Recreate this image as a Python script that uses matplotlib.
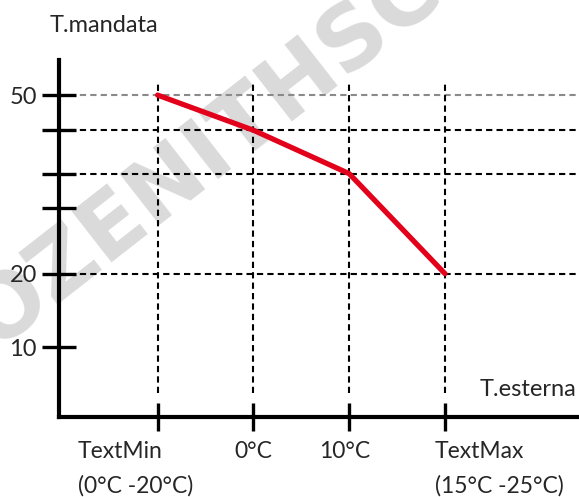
#!/usr/bin/env python3
"""climatic curve: flow temperature vs outdoor temperature"""
import matplotlib
matplotlib.use("Agg")
import matplotlib.pyplot as plt

# data
categories = [0, 1, 2, 3]
cat_labels = ["TextMin\n(0°C -20°C)", "0°C", "10°C", "TextMax\n(15°C -25°C)"]
t_mandata = [50, 44.1, 36.8, 20]
ytick_pos = [7.65, 20, 31.0, 36.8, 44.1, 50]
ytick_labels = ["10", "20", "", "", "", "50"]
hgrid_levels = [20, 36.8, 44.1]
top_level = 50

FONT = ["Lato", "DejaVu Sans"]
TXT = "#262626"
plt.rcParams["font.family"] = FONT


def main():
    fig = plt.figure(figsize=(5.79, 4.97), dpi=100)
    ax = fig.add_axes([59 / 579, 80 / 497, 520 / 579, 357 / 497])
    ax.set_facecolor("none")
    ax.set_zorder(1)

    # watermark behind the chart
    fig.text(205 / 579, 1 - 155 / 497, "OZENITHSC", rotation=38,
             ha="center", va="center", fontsize=64, weight="bold",
             family="DejaVu Sans", color="#dadada", zorder=0)

    ax.set_xlim(-1.03, 4.4)
    ax.set_ylim(-4.1, 55.9)

    # grid
    for lv in hgrid_levels:
        ax.axhline(lv, color="black", lw=1.5, ls=(0, (3, 2)), zorder=1)
    ax.axhline(top_level, color="#8a8a8a", lw=1.5, ls=(0, (3, 2)), zorder=1)
    for c in categories:
        ax.plot([c, c], [0, 52.2], color="black", lw=1.5, ls=(0, (3, 2)),
                zorder=1)

    ax.plot(categories, t_mandata, color="#e2001a", lw=3.8,
            solid_capstyle="round", solid_joinstyle="round", zorder=3)

    for s in ["top", "right"]:
        ax.spines[s].set_visible(False)
    for s in ["left", "bottom"]:
        ax.spines[s].set_linewidth(3)
        ax.spines[s].set_color("black")
        ax.spines[s].set_capstyle("projecting")

    ax.set_yticks(ytick_pos)
    ax.set_yticklabels(ytick_labels)
    ax.tick_params(axis="y", direction="inout", length=24, width=2.4,
                   pad=4, labelsize=17, labelcolor=TXT)
    ax.set_xticks(categories)
    ax.set_xticklabels([])
    ax.tick_params(axis="x", direction="inout", length=20, width=2.4)

    offsets = [(-80, "left"), (0, "center"), (-4, "center"), (-10, "left")]
    for c, lab, (dx, ha) in zip(categories, cat_labels, offsets):
        ax.annotate(lab, xy=(c, 0), xycoords=("data", "axes fraction"),
                    xytext=(dx, -24), textcoords="offset pixels",
                    ha=ha, va="top", fontsize=16.5, color=TXT,
                    linespacing=1.75, annotation_clip=False)

    fig.text(50 / 579, 1 - 26 / 497, "T.mandata", ha="left", va="center",
             fontsize=17, color=TXT)
    fig.text(576 / 579, 1 - 389 / 497, "T.esterna", ha="right",
             va="center", fontsize=17, color=TXT)

    fig.savefig("out.png", dpi=100)


if __name__ == "__main__":
    main()
